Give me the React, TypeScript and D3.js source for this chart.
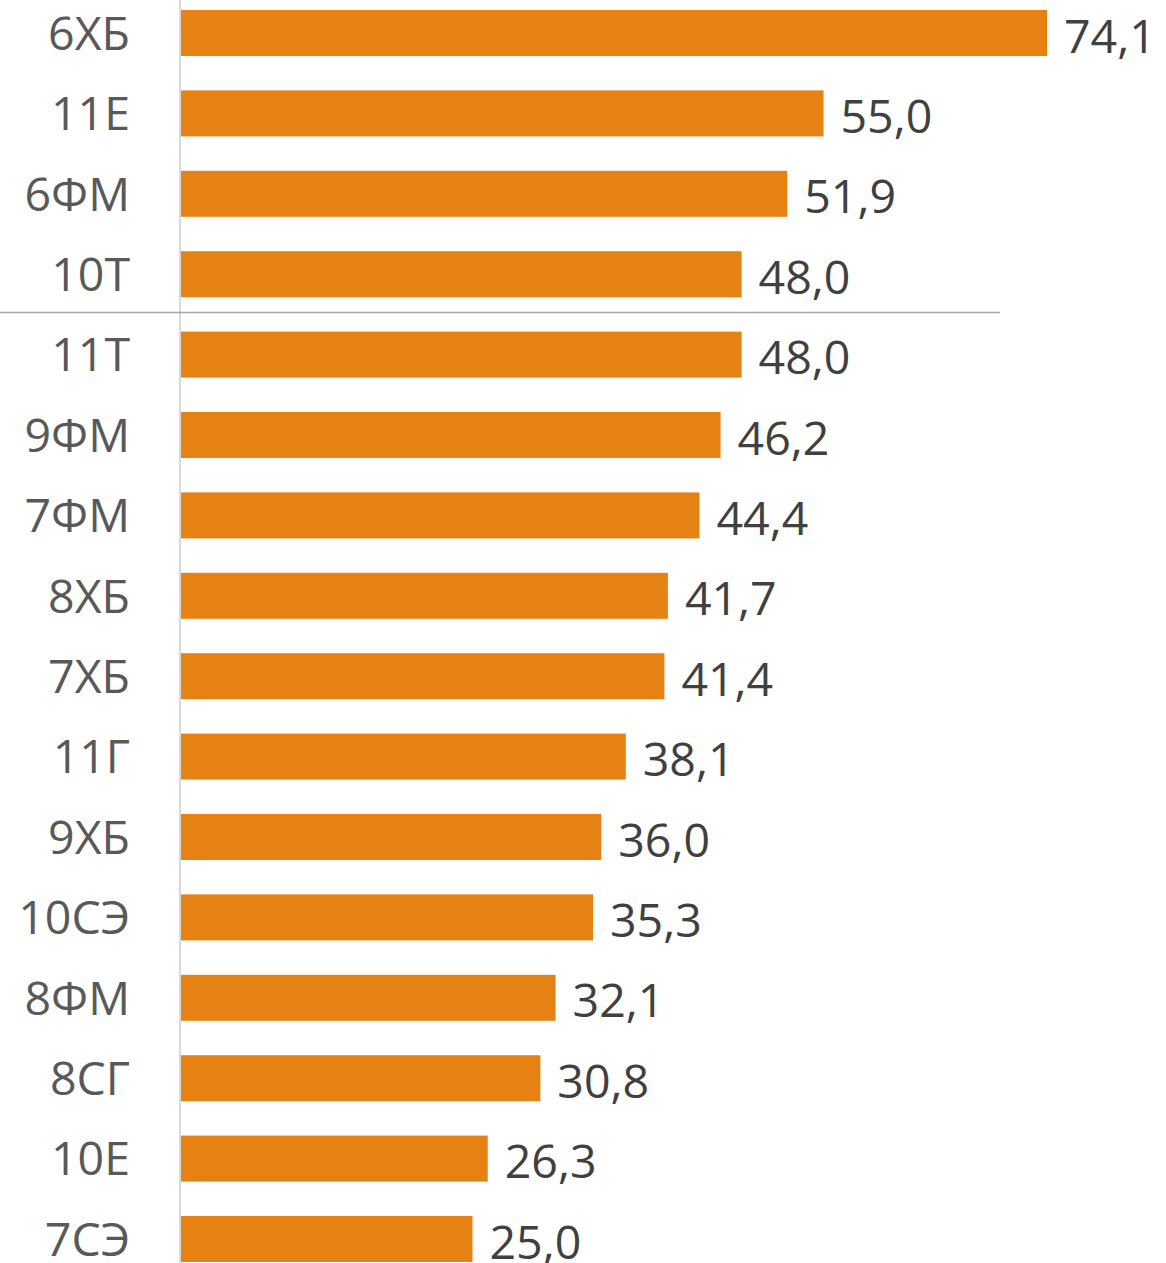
import React, { useEffect, useRef } from 'react';
import * as d3 from 'd3';

// categories top to bottom
const classes = ['6ХБ', '11Е', '6ФМ', '10Т', '11Т', '9ФМ', '7ФМ', '8ХБ', '7ХБ', '11Г', '9ХБ', '10СЭ', '8ФМ', '8СГ', '10Е', '7СЭ'];
const scores = [74.1, 55.0, 51.9, 48.0, 48.0, 46.2, 44.4, 41.7, 41.4, 38.1, 36.0, 35.3, 32.1, 30.8, 26.3, 25.0];
// the separator sits after this many rows
const topGroupSize = 4;

const App = () => {
  const svgRef = useRef(null);

  useEffect(() => {
    const svg = d3.select(svgRef.current);
    svg.selectAll('*').remove();

    const height = 1263;
    const axisX = 180;
    const font = '"Open Sans", "DejaVu Sans", sans-serif';

    const x = d3.scaleLinear()
      .domain([0, 74.1])
      .range([axisX, 1047]);

    const y = d3.scaleBand()
      .domain(classes)
      .range([-7.2, 1279.2])
      .paddingInner(0.428)
      .paddingOuter(0.214);

    const rows = classes.map((c, i) => ({ label: c, value: scores[i] }));

    // bars
    svg.selectAll('rect.bar')
      .data(rows)
      .enter().append('rect')
      .attr('class', 'bar')
      .attr('x', x(0))
      .attr('y', d => y(d.label))
      .attr('width', d => x(d.value) - x(0))
      .attr('height', y.bandwidth())
      .attr('fill', '#E58213');

    // vertical axis line
    svg.append('line')
      .attr('x1', axisX).attr('x2', axisX)
      .attr('y1', 0).attr('y2', height)
      .attr('stroke', '#d9d9d9')
      .attr('stroke-width', 2);

    // separator between top group and the rest
    const sepY = (y(classes[topGroupSize - 1]) + y.bandwidth() + y(classes[topGroupSize])) / 2 - 2;
    svg.append('line')
      .attr('x1', 0).attr('x2', 1000)
      .attr('y1', sepY).attr('y2', sepY)
      .attr('stroke', '#a6a6a6')
      .attr('stroke-width', 1.5);

    // category labels
    svg.selectAll('text.cat')
      .data(rows)
      .enter().append('text')
      .attr('class', 'cat')
      .attr('x', axisX - 50)
      .attr('y', d => y(d.label) + y.bandwidth() / 2)
      .attr('dy', '0.36em')
      .attr('text-anchor', 'end')
      .attr('font-family', font)
      .attr('font-size', 46.5)
      .attr('fill', '#595959')
      .text(d => d.label);

    // value labels
    svg.selectAll('text.val')
      .data(rows)
      .enter().append('text')
      .attr('class', 'val')
      .attr('x', d => x(d.value) + 17)
      .attr('y', d => y(d.label) + y.bandwidth() / 2)
      .attr('dy', '0.42em')
      .attr('font-family', font)
      .attr('font-size', 46.5)
      .attr('fill', '#404040')
      .text(d => d.value.toFixed(1).replace('.', ','));
  }, []);

  return (
    <svg
      ref={svgRef}
      width={1166}
      height={1263}
      style={{ position: 'absolute', left: 0, top: 0, background: '#fff' }}
    ></svg>
  );
};

export default App;
